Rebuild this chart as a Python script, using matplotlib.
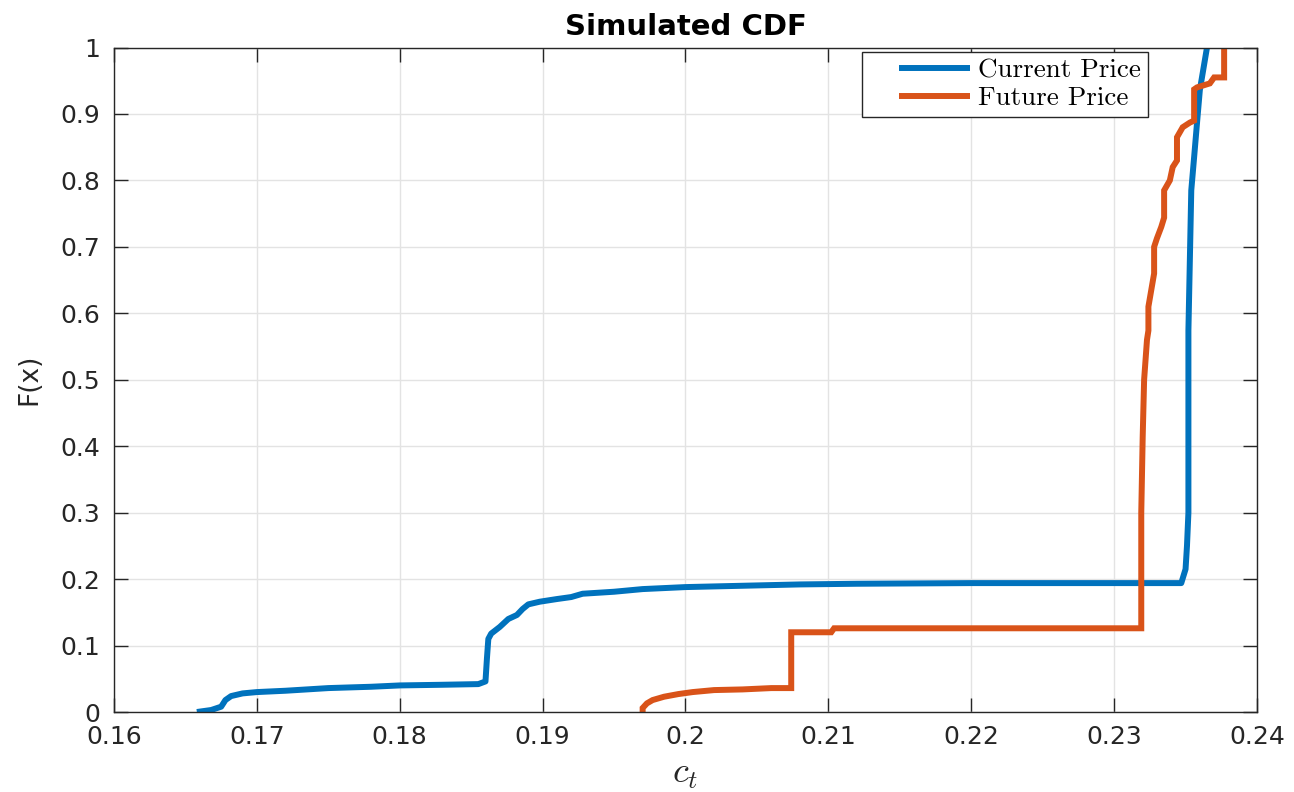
import matplotlib
matplotlib.use("Agg")
import matplotlib.pyplot as plt
from matplotlib.legend_handler import HandlerLine2D

# ---- data ----
current_x = [0.1658, 0.1668, 0.1675, 0.1678, 0.1682, 0.1690, 0.1700, 0.1720, 0.1750,
             0.1780, 0.1800, 0.1830, 0.1855, 0.1860, 0.1861, 0.1862, 0.1864, 0.1870,
             0.1876, 0.1882, 0.1886, 0.1890, 0.1898, 0.1910, 0.1920, 0.1928, 0.1950,
             0.1970, 0.2000, 0.2040, 0.2080, 0.2120, 0.2200, 0.2300, 0.2347, 0.2350,
             0.2351, 0.2352, 0.2352, 0.2352, 0.2352, 0.2354, 0.2356, 0.2358, 0.2360,
             0.2365]
current_y = [0.000, 0.003, 0.008, 0.018, 0.024, 0.028, 0.030, 0.032, 0.036,
             0.038, 0.040, 0.041, 0.042, 0.046, 0.080, 0.110, 0.118, 0.128,
             0.140, 0.146, 0.155, 0.162, 0.166, 0.170, 0.173, 0.178, 0.181,
             0.185, 0.188, 0.190, 0.192, 0.193, 0.194, 0.194, 0.194, 0.215,
             0.250, 0.300, 0.400, 0.500, 0.574, 0.785, 0.835, 0.886, 0.936,
             1.000]

future_x = [0.1970, 0.1970, 0.1973, 0.1977, 0.1985, 0.1995, 0.2005, 0.2020, 0.2040,
            0.2060, 0.2074, 0.2074, 0.2102, 0.2104, 0.2200, 0.2319, 0.2319, 0.2320,
            0.2321, 0.2323, 0.2324, 0.2324, 0.2326, 0.2328, 0.2328, 0.2330, 0.2333,
            0.2335, 0.2335, 0.2339, 0.2341, 0.2344, 0.2344, 0.2348, 0.2353, 0.2356,
            0.2356, 0.2358, 0.2367, 0.2370, 0.2377, 0.2377]
future_y = [0.000, 0.006, 0.013, 0.018, 0.023, 0.027, 0.030, 0.033, 0.034,
            0.036, 0.036, 0.120, 0.120, 0.126, 0.126, 0.126, 0.300, 0.414,
            0.500, 0.560, 0.574, 0.610, 0.635, 0.660, 0.700, 0.713, 0.730,
            0.744, 0.785, 0.800, 0.820, 0.830, 0.865, 0.880, 0.887, 0.890,
            0.937, 0.940, 0.946, 0.955, 0.955, 1.000]

series_labels = ["Current Price", "Future Price"]
x_ticks = [0.16, 0.17, 0.18, 0.19, 0.20, 0.21, 0.22, 0.23, 0.24]
x_ticklabels = ["0.16", "0.17", "0.18", "0.19", "0.2", "0.21", "0.22", "0.23", "0.24"]
y_ticks = [0.0, 0.1, 0.2, 0.3, 0.4, 0.5, 0.6, 0.7, 0.8, 0.9, 1.0]
y_ticklabels = ["0", "0.1", "0.2", "0.3", "0.4", "0.5", "0.6", "0.7", "0.8", "0.9", "1"]


class GapLineHandler(HandlerLine2D):
    """Legend line with empty space before it (MATLAB-like)."""
    def create_artists(self, legend, orig_handle, xdescent, ydescent,
                       width, height, fontsize, trans):
        gap = 0.3 * width
        return super().create_artists(legend, orig_handle, xdescent - gap,
                                      ydescent, width - gap, height,
                                      fontsize, trans)


# ---- style ----
plt.rcParams["font.family"] = ["DejaVu Sans"]
plt.rcParams["mathtext.fontset"] = "cm"

fig = plt.figure(figsize=(12.94, 7.92), dpi=100)
ax = fig.add_axes([0.0881, 0.1010, 0.8833, 0.8390])

blue = "#0072BD"
orange = "#D95319"
l1, = ax.plot(current_x, current_y, color=blue, lw=4.3, label=series_labels[0],
              solid_joinstyle="round", solid_capstyle="butt")
l2, = ax.plot(future_x, future_y, color=orange, lw=4.3, label=series_labels[1],
              solid_joinstyle="miter", solid_capstyle="butt")

ax.set_xlim(0.16, 0.24)
ax.set_ylim(0, 1)
ax.set_xticks(x_ticks)
ax.set_xticklabels(x_ticklabels)
ax.set_yticks(y_ticks)
ax.set_yticklabels(y_ticklabels)

ax.grid(True, color="#e3e3e3", lw=1.0)
ax.set_axisbelow(True)
ax.tick_params(direction="in", length=10, width=1.0, colors="#262626",
               labelsize=18, top=True, right=True)
ax.tick_params(axis="y", pad=10)
ax.tick_params(axis="x", pad=9)
for sp in ax.spines.values():
    sp.set_color("#262626")
    sp.set_linewidth(1.0)

ax.set_title("Simulated CDF", fontsize=21, fontweight="bold", pad=9)
ax.set_ylabel("F(x)", fontsize=19, color="#262626", labelpad=13)
ax.set_xlabel(r"$c_t$", fontsize=26, color="#262626", labelpad=6)

handler = GapLineHandler()
leg = ax.legend(handles=[l1, l2], labels=series_labels,
                handler_map={l1: handler, l2: handler},
                loc="upper right", bbox_to_anchor=(0.9046, 0.993),
                prop={"family": "cmr10", "size": 19.5}, frameon=True,
                fancybox=False, edgecolor="#262626", framealpha=1,
                handlelength=3.75, handletextpad=0.3, labelspacing=0.12,
                borderpad=0.25, borderaxespad=0)
leg.get_frame().set_linewidth(1.0)

fig.savefig("out.png", dpi=100)
